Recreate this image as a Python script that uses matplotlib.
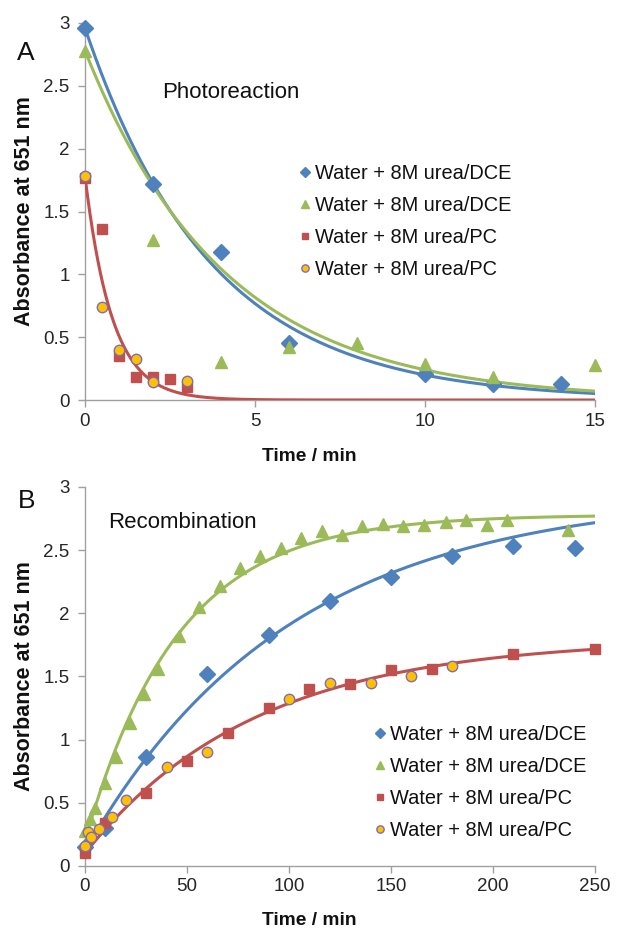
import numpy as np
import matplotlib
matplotlib.use("Agg")
import matplotlib.pyplot as plt
from matplotlib.ticker import FuncFormatter

plt.rcParams['font.family'] = ['Liberation Sans', 'DejaVu Sans']

# ---------------- data: panel A (Photoreaction) ----------------
a_blue_t = [0, 2, 4, 6, 10, 12, 14]
a_blue_y = [2.96, 1.72, 1.18, 0.45, 0.21, 0.13, 0.13]
a_green_t = [0, 2, 4, 6, 8, 10, 12, 15]
a_green_y = [2.78, 1.27, 0.30, 0.42, 0.45, 0.29, 0.18, 0.28]
a_red_t = [0, 0.5, 1, 1.5, 2, 2.5, 3]
a_red_y = [1.77, 1.36, 0.35, 0.18, 0.18, 0.17, 0.10]
a_orange_t = [0, 0.5, 1, 1.5, 2, 3]
a_orange_y = [1.78, 0.74, 0.40, 0.33, 0.14, 0.15]
# exponential decay fits: (amplitude, rate 1/min)
a_fit_blue = (2.96, 0.27)
a_fit_green = (2.78, 0.245)
a_fit_red = (1.78, 1.25)

# ---------------- data: panel B (Recombination) ----------------
b_blue_t = [0, 10, 30, 60, 90, 120, 150, 180, 210, 240]
b_blue_y = [0.15, 0.30, 0.86, 1.52, 1.83, 2.10, 2.29, 2.45, 2.53, 2.52]
b_green_t = [0, 2.5, 5, 10, 15, 22, 29, 36, 46, 56, 66, 76, 86, 96, 106, 116,
             126, 136, 146, 156, 166, 177, 187, 197, 207, 237]
b_green_y = [0.28, 0.37, 0.46, 0.66, 0.86, 1.13, 1.36, 1.56, 1.82, 2.05, 2.22,
             2.36, 2.45, 2.52, 2.60, 2.65, 2.62, 2.69, 2.71, 2.69, 2.70, 2.72,
             2.74, 2.70, 2.74, 2.66]
b_red_t = [0, 10, 30, 50, 70, 90, 110, 130, 150, 170, 210, 250]
b_red_y = [0.10, 0.34, 0.58, 0.83, 1.05, 1.25, 1.40, 1.44, 1.55, 1.56, 1.68, 1.72]
b_orange_t = [0, 1.5, 3, 7, 13, 20, 40, 60, 100, 120, 140, 160, 180]
b_orange_y = [0.16, 0.27, 0.23, 0.29, 0.39, 0.52, 0.78, 0.90, 1.32, 1.45, 1.45, 1.50, 1.58]
# rise-to-plateau fits: (start, plateau, rate 1/min)
b_fit_blue = (0.12, 2.95, 0.010)
b_fit_green = (0.20, 2.78, 0.022)
b_fit_red = (0.10, 1.80, 0.012)

labels = ["Water + 8M urea/DCE", "Water + 8M urea/DCE",
          "Water + 8M urea/PC", "Water + 8M urea/PC"]
a_xticks = [0, 5, 10, 15]
b_xticks = [0, 50, 100, 150, 200, 250]
yticks = [0, 0.5, 1, 1.5, 2, 2.5, 3]

C_BLUE = '#4F81BD'
C_GREEN = '#9BBB59'
C_RED = '#C0504D'
C_ORANGE = '#FFC000'
C_OEDGE = '#7E6DB5'
C_AX = '#A0A0A0'
C_TXT = '#262626'

fig = plt.figure(figsize=(6.17, 9.30), dpi=100)
axA = fig.add_axes([0.13776, 0.56989, 0.8266, 0.40538])
axB = fig.add_axes([0.13776, 0.06882, 0.8266, 0.40753])


def style(ax, xmax, xticks):
    ax.set_xlim(0, xmax)
    ax.set_ylim(0, 3)
    ax.set_xticks(xticks)
    ax.set_yticks(yticks)
    ax.yaxis.set_major_formatter(FuncFormatter(lambda v, p: '%g' % v))
    for s in ['top', 'right']:
        ax.spines[s].set_visible(False)
    for s in ['left', 'bottom']:
        ax.spines[s].set_color(C_AX)
        ax.spines[s].set_linewidth(1.0)
    ax.tick_params(axis='both', direction='out', length=5, width=1.0,
                   color=C_AX, labelcolor=C_TXT, labelsize=13.5)
    ax.tick_params(axis='x', pad=4)
    ax.tick_params(axis='y', pad=6)
    ax.set_xlabel('Time / min', fontsize=13.8, fontweight='bold', color='#111111')
    ax.set_ylabel('Absorbance at 651 nm', fontsize=15.5, fontweight='bold', color='#111111')
    ax.yaxis.set_label_coords(-0.098, 0.5)


def markers(ax, data):
    (bt, by), (gt, gy), (rt, ry), (ot, oy) = data
    h1, = ax.plot(bt, by, ls='none', marker='D', ms=8, color=C_BLUE,
                  mec=C_BLUE, zorder=5, clip_on=False)
    h2, = ax.plot(gt, gy, ls='none', marker='^', ms=8.5, color=C_GREEN,
                  mec=C_GREEN, zorder=5, clip_on=False)
    h3, = ax.plot(rt, ry, ls='none', marker='s', ms=6.5, color=C_RED,
                  mec=C_RED, zorder=5, clip_on=False)
    h4, = ax.plot(ot, oy, ls='none', marker='o', ms=7.5, color=C_ORANGE,
                  mec=C_OEDGE, mew=1.0, zorder=6, clip_on=False)
    return [h1, h2, h3, h4]


def legend(ax, handles, x_px, top_px):
    leg = ax.legend(handles, labels, loc='upper left',
                    bbox_to_anchor=(x_px / 617, 1 - top_px / 930),
                    bbox_transform=fig.transFigure, frameon=False, fontsize=14.4,
                    handlelength=0.6, handletextpad=0.2, labelspacing=0.65,
                    borderpad=0, borderaxespad=0, markerscale=0.7, numpoints=1)
    for t in leg.get_texts():
        t.set_color('#111111')
    return leg


# ---------- panel A ----------
style(axA, 15, a_xticks)
ta = np.linspace(0, 15, 400)
axA.plot(ta, a_fit_blue[0] * np.exp(-a_fit_blue[1] * ta), color=C_BLUE, lw=2.2, zorder=3)
axA.plot(ta, a_fit_green[0] * np.exp(-a_fit_green[1] * ta), color=C_GREEN, lw=2.2, zorder=3)
axA.plot(ta, a_fit_red[0] * np.exp(-a_fit_red[1] * ta), color=C_RED, lw=2.2, zorder=3)
hA = markers(axA, [(a_blue_t, a_blue_y), (a_green_t, a_green_y),
                   (a_red_t, a_red_y), (a_orange_t, a_orange_y)])
axA.xaxis.set_label_coords(0.44, -0.128)
axA.text((231 - 85) / 510, (400 - 93) / 377, 'Photoreaction', transform=axA.transAxes,
         fontsize=16, ha='center', va='center', color='#111111')
fig.text(26 / 617, 1 - 53 / 930, 'A', fontsize=19, ha='center', va='center', color='#111111')
legend(axA, hA, 299, 164)

# ---------- panel B ----------
style(axB, 250, b_xticks)
tb = np.linspace(0, 250, 400)
for (y0, yinf, k), c in [(b_fit_blue, C_BLUE), (b_fit_green, C_GREEN), (b_fit_red, C_RED)]:
    axB.plot(tb, yinf - (yinf - y0) * np.exp(-k * tb), color=c, lw=2.2, zorder=3)
hB = markers(axB, [(b_blue_t, b_blue_y), (b_green_t, b_green_y),
                   (b_red_t, b_red_y), (b_orange_t, b_orange_y)])
axB.xaxis.set_label_coords(0.44, -0.122)
axB.text((182 - 85) / 510, (866 - 523) / 379, 'Recombination', transform=axB.transAxes,
         fontsize=16, ha='center', va='center', color='#111111')
fig.text(27 / 617, 1 - 501 / 930, 'B', fontsize=19, ha='center', va='center', color='#111111')
legend(axB, hB, 374, 725)

fig.savefig('out.png', dpi=100)
